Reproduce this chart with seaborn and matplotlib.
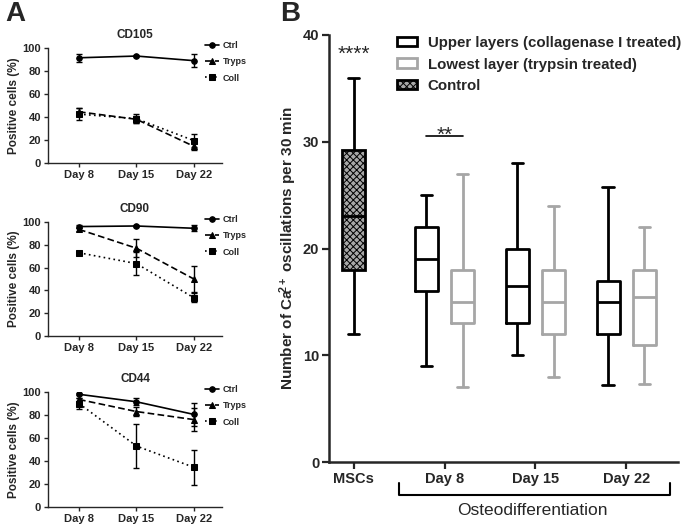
import numpy as np
import pandas as pd
import matplotlib
matplotlib.use("Agg")
import matplotlib.pyplot as plt
import matplotlib.transforms as mtransforms
from matplotlib.patches import Patch
import seaborn as sns

# ---------------- Panel A data (mean, SD) ----------------
days = ["Day 8", "Day 15", "Day 22"]
conditions = ["Ctrl", "Tryps", "Coll"]

cd105_ctrl = [91.5, 93.0, 89.0]
cd105_ctrl_sd = [3.5, 1.0, 5.5]
cd105_tryps = [44.5, 38.0, 14.5]
cd105_tryps_sd = [3.0, 3.0, 3.0]
cd105_coll = [42.5, 38.5, 19.5]
cd105_coll_sd = [5.0, 4.0, 6.0]

cd90_ctrl = [96.0, 96.5, 94.5]
cd90_ctrl_sd = [1.5, 1.0, 2.5]
cd90_tryps = [93.5, 77.0, 50.0]
cd90_tryps_sd = [1.5, 8.0, 11.5]
cd90_coll = [73.0, 63.5, 33.5]
cd90_coll_sd = [2.0, 10.0, 4.0]

cd44_ctrl = [98.0, 91.5, 80.5]
cd44_ctrl_sd = [1.0, 3.0, 10.0]
cd44_tryps = [93.5, 83.0, 76.0]
cd44_tryps_sd = [1.5, 4.0, 10.0]
cd44_coll = [90.0, 53.0, 34.5]
cd44_coll_sd = [5.0, 19.5, 15.0]

# ---------------- Panel B data (min, Q1, median, Q3, max) ----------------
groups = ["MSCs", "Day 8", "Day 15", "Day 22"]
layers = ["Upper layers (collagenase I treated)", "Lowest layer (trypsin treated)"]
msc_control = [12, 18, 23, 29.2, 36]
upper_day8 = [9, 16, 19, 22, 25]
upper_day15 = [10, 13, 16.5, 20, 28]
upper_day22 = [7.2, 12, 15, 17, 25.8]
lowest_day8 = [7, 13, 15, 18, 27]
lowest_day15 = [8, 12, 15, 18, 24]
lowest_day22 = [7.3, 11, 15.5, 18, 22]

sns.set_theme(style="ticks")
plt.rcParams['font.family'] = ['Liberation Sans', 'DejaVu Sans']
plt.rcParams['font.weight'] = 'bold'
plt.rcParams['mathtext.fontset'] = 'custom'
plt.rcParams['mathtext.rm'] = 'Liberation Sans:bold'
plt.rcParams['mathtext.bf'] = 'Liberation Sans:bold'
plt.rcParams['mathtext.it'] = 'Liberation Sans:bold'
plt.rcParams['hatch.linewidth'] = 0.7

W, H = 685, 525
fig = plt.figure(figsize=(6.85, 5.25), dpi=100)


def px_axes(left, top, right, bottom):
    return fig.add_axes([left / W, 1 - bottom / H, (right - left) / W, (bottom - top) / H])


def panel_a(ax, title, means, sds):
    df = pd.DataFrame({
        "day": days * 3,
        "cond": np.repeat(conditions, len(days)),
        "pct": np.concatenate(means),
    })
    sns.lineplot(data=df, x="day", y="pct", hue="cond", style="cond",
                 hue_order=conditions, style_order=conditions,
                 palette=["black"] * 3,
                 markers={"Ctrl": "o", "Tryps": "^", "Coll": "s"},
                 dashes={"Ctrl": "", "Tryps": (4, 2), "Coll": (1, 2)},
                 markersize=4, linewidth=1.2, markeredgecolor="black",
                 ax=ax)
    for m, s in zip(means, sds):
        ax.errorbar(days, m, yerr=s, fmt="none", ecolor="black",
                    elinewidth=1, capsize=2.5, capthick=1)
    handles, labels = ax.get_legend_handles_labels()
    ax.get_legend().remove()
    ax.legend(handles[-3:], labels[-3:], loc="upper left", bbox_to_anchor=(0.9, 1.06),
              frameon=False, fontsize=6.5, handlelength=1.6, handletextpad=0.4,
              labelspacing=0.8, borderpad=0, borderaxespad=0)
    ax.set_xlim(-0.54, 2.49)
    ax.set_ylim(0, 100)
    ax.set_yticks([0, 20, 40, 60, 80, 100])
    ax.set_title(title, fontsize=8.5, fontweight="bold", pad=7)
    ax.set_xlabel("")
    ax.set_ylabel("Positive cells (%)", fontsize=8.5, fontweight="bold", labelpad=2)
    ax.tick_params(labelsize=8, width=1, length=3, pad=2)
    for sp in ["left", "bottom"]:
        ax.spines[sp].set_linewidth(1)
    sns.despine(ax=ax)


axA1 = px_axes(48, 48, 222, 163)
axA2 = px_axes(48, 222, 222, 336)
axA3 = px_axes(48, 392, 222, 507)
panel_a(axA1, "CD105", [cd105_ctrl, cd105_tryps, cd105_coll],
        [cd105_ctrl_sd, cd105_tryps_sd, cd105_coll_sd])
panel_a(axA2, "CD90", [cd90_ctrl, cd90_tryps, cd90_coll],
        [cd90_ctrl_sd, cd90_tryps_sd, cd90_coll_sd])
panel_a(axA3, "CD44", [cd44_ctrl, cd44_tryps, cd44_coll],
        [cd44_ctrl_sd, cd44_tryps_sd, cd44_coll_sd])

# ---------------- Panel B ----------------
axB = px_axes(329, 35, 678, 462)
grey = "#a6a6a6"
ctrl_face = "#a8a8a8"

df_msc = pd.DataFrame({"group": "MSCs", "osc": msc_control})
sns.boxplot(data=df_msc, x="group", y="osc", order=groups, width=0.25,
            whis=(0, 100), color="white", linecolor="black", linewidth=2,
            ax=axB)
msc_box = axB.patches[-1]
msc_box.set_facecolor(ctrl_face)
msc_box.set_hatch("xxxxx")

rows = []
for g, u, l in zip(groups[1:], [upper_day8, upper_day15, upper_day22],
                   [lowest_day8, lowest_day15, lowest_day22]):
    rows += [(g, layers[0], v) for v in u]
    rows += [(g, layers[1], v) for v in l]
df_ost = pd.DataFrame(rows, columns=["group", "layer", "osc"])
sns.boxplot(data=df_ost, x="group", y="osc", hue="layer", order=groups,
            hue_order=layers, palette=["black", grey], fill=False,
            width=0.8, gap=0.37, whis=(0, 100), linewidth=2, legend=False,
            ax=axB)

axB.set_xlim(-0.273, 3.57)
axB.set_ylim(0, 40)
axB.set_yticks([0, 10, 20, 30, 40])
axB.set_xlabel("")
axB.set_ylabel("Number of Ca$\\!^{2+}$ oscillations per 30 min", fontsize=11,
               fontweight="bold")
axB.yaxis.set_label_coords(-0.085, 0.5)
axB.tick_params(labelsize=10.5, width=1.6, length=5, pad=2)
for sp in ["left", "bottom"]:
    axB.spines[sp].set_linewidth(1.8)
sns.despine(ax=axB)

# significance marks
axB.text(0, 37.7, "****", ha="center", va="baseline", fontsize=15,
         fontweight="normal")
axB.text(1, 30.1, "**", ha="center", va="baseline", fontsize=15,
         fontweight="normal")
axB.plot([0.8, 1.2], [30.55, 30.55], color="black", lw=1.2)

# bracket for osteodifferentiation
trans = mtransforms.blended_transform_factory(axB.transData, axB.transAxes)
axB.plot([0.5, 0.5, 3.48, 3.48], [-0.049, -0.077, -0.077, -0.049],
         color="black", lw=1.5, transform=trans, clip_on=False)
axB.text(1.97, -0.113, "Osteodifferentiation", ha="center", va="center",
         fontsize=12.5, fontweight="normal", transform=trans)

# legend
leg_handles = [
    Patch(facecolor="white", edgecolor="black", linewidth=2, label=layers[0]),
    Patch(facecolor="white", edgecolor=grey, linewidth=2, label=layers[1]),
    Patch(facecolor=ctrl_face, edgecolor="black", linewidth=2, hatch="xxxxx",
          label="Control"),
]
fig.legend(handles=leg_handles, loc="upper left",
           bbox_to_anchor=(397 / W, 1 - 36 / H), frameon=False,
           prop={"size": 10.8, "weight": "bold"}, handlelength=1.3,
           handleheight=0.6, handletextpad=0.75, labelspacing=0.5,
           borderpad=0, borderaxespad=0)

fig.text(5 / W, 1 - 1 / H, "A", fontsize=20, fontweight="bold", va="top")
fig.text(280 / W, 1 - 1 / H, "B", fontsize=20, fontweight="bold", va="top")

fig.savefig("out.png", dpi=100)
